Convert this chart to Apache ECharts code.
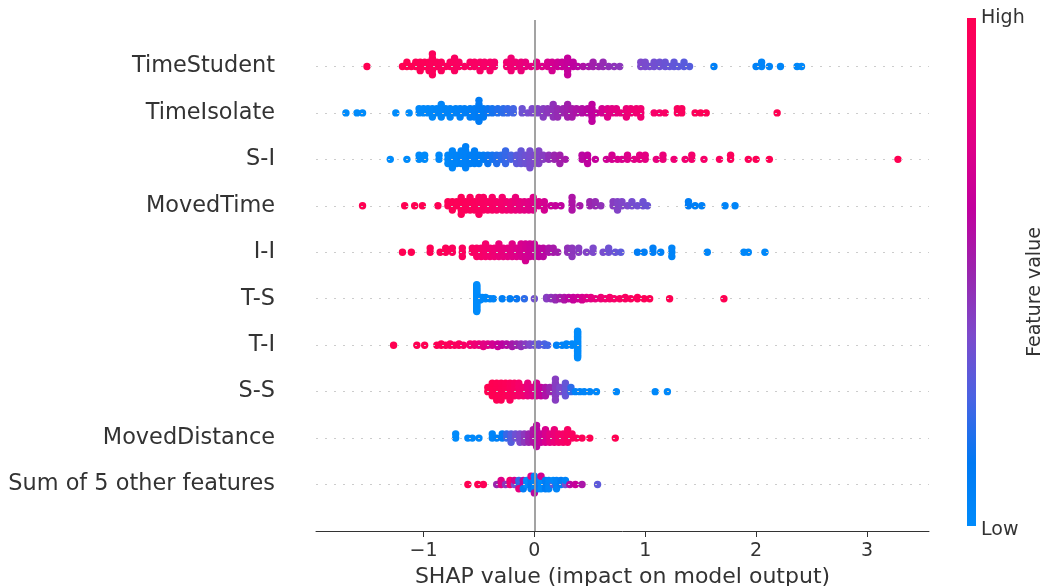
<!DOCTYPE html>
<html lang="en">
<head>
<meta charset="UTF-8">
<title>SHAP summary</title>
<script src="https://cdn.jsdelivr.net/npm/echarts@6.0.0/dist/echarts.min.js"></script>
<style>
    html, body { margin: 0; padding: 0; background: #fff; }
    #main { width: 1049px; height: 586px; }
</style>
</head>
<body>
<div id="main"></div>
<script>
    // rows, top first
    let features = ['TimeStudent', 'TimeIsolate', 'S-I', 'MovedTime', 'I-I', 'T-S', 'T-I', 'S-S', 'MovedDistance', 'Sum of 5 other features'];

    // each entry: [shap value, samples at that value, feature value 0 (low) .. 1 (high)]
    let timeStudent = [
        [-1.51,1,1],[-1.19,1,1],[-1.15,2,1],[-1.11,1,1],[-1.07,2,0.98],[-1.03,3,0.98],[-0.99,2,0.97],[-0.95,3,0.97],
        [-0.92,6,0.96],[-0.88,2,0.96],[-0.84,3,0.95],[-0.80,1,0.95],[-0.76,2,0.94],[-0.72,4,0.94],[-0.68,2,0.93],
        [-0.63,1,0.93],[-0.58,2,0.92],[-0.54,2,0.92],[-0.49,3,0.91],[-0.45,2,0.9],[-0.40,3,0.9],[-0.36,2,0.88],
        [-0.25,2,0.86],[-0.21,4,0.85],[-0.17,2,0.84],[-0.12,3,0.82],[-0.08,2,0.8],[-0.03,1,0.78],[0.02,2,0.76],
        [0.07,1,0.74],[0.12,2,0.72],[0.16,3,0.7],[0.21,2,0.68],[0.25,2,0.66],[0.30,5,0.64],[0.35,2,0.62],[0.39,1,0.6],
        [0.44,1,0.56],[0.49,1,0.54],[0.53,2,0.52],[0.58,1,0.5],[0.62,2,0.48],[0.67,1,0.46],[0.72,1,0.45],[0.77,1,0.44],
        [0.96,2,0.38],[1.00,2,0.37],[1.04,1,0.36],[1.08,2,0.35],[1.13,2,0.34],[1.18,2,0.33],[1.22,1,0.32],[1.26,2,0.31],
        [1.30,1,0.3],[1.35,2,0.29],[1.40,1,0.28],
        [1.62,1,0.08],[2.00,1,0.06],[2.05,2,0.05],[2.12,1,0.05],[2.22,1,0.04],[2.37,1,0.03],[2.41,1,0.02]
    ];
    let timeIsolate = [
        [-1.70,1,0],[-1.60,1,0],[-1.55,1,0],[-1.25,1,0],[-1.13,1,0],
        [-1.04,2,0.02],[-1.00,2,0.02],[-0.96,2,0.03],[-0.92,3,0.03],[-0.88,2,0.04],[-0.84,4,0.04],[-0.80,2,0.05],
        [-0.76,3,0.05],[-0.71,2,0.06],[-0.67,3,0.07],[-0.63,2,0.08],[-0.58,3,0.09],[-0.54,3,0.1],[-0.50,6,0.11],
        [-0.46,3,0.12],[-0.42,2,0.14],[-0.38,2,0.16],[-0.33,2,0.18],[-0.28,2,0.2],[-0.24,2,0.22],[-0.19,2,0.24],
        [-0.11,2,0.34],[-0.06,1,0.36],[-0.02,2,0.38],[0.03,2,0.4],[0.08,3,0.42],[0.12,2,0.44],[0.17,4,0.46],
        [0.21,3,0.48],[0.26,2,0.5],[0.30,4,0.52],[0.34,3,0.54],[0.38,2,0.56],[0.43,2,0.58],[0.48,2,0.6],[0.52,5,0.62],
        [0.56,1,0.64],[0.61,2,0.7],[0.66,3,0.74],[0.70,2,0.76],[0.74,2,0.78],[0.78,1,0.8],[0.83,3,0.82],[0.87,2,0.84],
        [0.92,2,0.85],[0.96,3,0.86],[1.08,1,0.9],[1.13,1,0.9],[1.18,1,0.92],[1.29,2,0.94],[1.33,2,0.95],
        [1.45,1,0.97],[1.50,1,0.98],[1.55,1,0.98],[2.19,1,1]
    ];
    let sI = [
        [-1.30,1,0],[-1.15,1,0],[-1.04,2,0.01],[-0.99,2,0.01],[-0.86,2,0.02],
        [-0.78,3,0.03],[-0.74,5,0.04],[-0.70,3,0.05],[-0.66,4,0.06],[-0.62,6,0.07],[-0.58,3,0.08],[-0.54,4,0.09],
        [-0.50,3,0.1],[-0.46,2,0.12],[-0.42,3,0.14],[-0.38,2,0.16],[-0.34,3,0.18],[-0.30,2,0.2],[-0.26,4,0.22],
        [-0.21,2,0.25],[-0.16,3,0.3],[-0.12,4,0.32],[-0.08,3,0.34],[-0.04,5,0.36],[0.00,3,0.38],[0.04,4,0.4],
        [0.08,2,0.42],[0.13,2,0.46],[0.18,2,0.5],[0.23,3,0.52],[0.28,1,0.54],
        [0.43,2,0.6],[0.48,3,0.62],[0.55,1,0.64],[0.65,1,0.68],[0.70,2,0.7],[0.75,1,0.72],[0.79,1,0.72],[0.84,2,0.74],
        [0.90,1,0.76],[0.95,2,0.77],[1.00,2,0.78],[1.10,1,0.8],[1.16,2,0.82],[1.26,1,0.84],[1.36,1,0.86],[1.42,2,0.88],
        [1.53,1,0.9],[1.67,1,0.94],[1.77,2,0.96],[1.93,1,0.97],[2.00,1,0.98],[2.12,1,1],[3.28,1,1]
    ];
    let movedTime = [
        [-1.55,1,1],[-1.17,1,1],[-1.08,1,1],[-1.01,1,1],[-0.87,1,0.99],
        [-0.78,2,0.98],[-0.74,3,0.98],[-0.70,2,0.97],[-0.66,5,0.97],[-0.62,3,0.96],[-0.58,4,0.96],[-0.54,3,0.95],
        [-0.50,5,0.94],[-0.46,4,0.93],[-0.42,3,0.92],[-0.38,4,0.91],[-0.34,3,0.9],[-0.29,4,0.88],[-0.25,3,0.86],
        [-0.21,3,0.84],[-0.17,4,0.82],[-0.13,3,0.8],[-0.09,3,0.78],[-0.05,3,0.76],[-0.01,4,0.74],[0.04,2,0.72],
        [0.09,3,0.7],[0.15,1,0.66],[0.19,1,0.64],[0.24,1,0.62],[0.34,4,0.56],[0.41,1,0.54],[0.50,2,0.5],[0.55,2,0.48],
        [0.60,1,0.46],[0.71,2,0.42],[0.75,3,0.4],[0.79,2,0.39],[0.84,1,0.38],[0.88,2,0.36],[0.93,1,0.35],[0.98,2,0.34],
        [1.02,1,0.33],[1.39,2,0.1],[1.45,1,0.08],[1.51,1,0.07],[1.72,1,0.05],[1.81,1,0.04]
    ];
    let iI = [
        [-1.19,1,1],[-1.11,1,1],[-0.94,2,0.99],[-0.85,1,0.98],[-0.80,2,0.97],[-0.74,2,0.96],[-0.65,3,0.95],
        [-0.56,2,0.93],[-0.52,3,0.92],[-0.48,3,0.9],[-0.44,4,0.88],[-0.40,3,0.86],[-0.36,3,0.84],[-0.32,4,0.82],
        [-0.28,3,0.8],[-0.24,3,0.78],[-0.20,4,0.76],[-0.16,3,0.74],[-0.12,4,0.72],[-0.08,5,0.7],[-0.04,4,0.68],
        [0.00,4,0.66],[0.04,3,0.63],[0.08,3,0.6],[0.13,2,0.56],[0.17,2,0.54],[0.21,1,0.52],
        [0.30,2,0.46],[0.34,3,0.44],[0.40,2,0.42],[0.47,1,0.4],[0.53,2,0.38],[0.62,1,0.36],[0.67,2,0.34],[0.73,1,0.32],
        [0.78,1,0.3],[0.93,1,0.1],[0.99,1,0.09],[1.07,2,0.08],[1.14,1,0.07],[1.24,3,0.05],[1.56,1,0.04],
        [1.89,1,0.03],[1.93,1,0.03],[2.08,1,0.02]
    ];
    let tS = [
        [-0.52,24,0],[-0.49,3,0.01],[-0.47,2,0.02],[-0.44,2,0.03],[-0.40,1,0.04],[-0.37,1,0.05],[-0.29,1,0.08],
        [-0.22,1,0.1],[-0.16,1,0.14],[-0.09,1,0.2],[0.00,1,0.35],
        [0.11,2,0.42],[0.15,2,0.45],[0.19,3,0.48],[0.23,2,0.52],[0.27,3,0.56],[0.31,2,0.6],[0.35,3,0.64],[0.39,2,0.67],
        [0.43,3,0.7],[0.47,2,0.74],[0.51,2,0.77],[0.55,1,0.8],[0.60,2,0.83],[0.64,1,0.86],[0.68,2,0.88],[0.72,1,0.9],
        [0.77,1,0.92],[0.82,2,0.93],[0.87,1,0.95],[0.93,2,0.96],[0.99,1,0.97],[1.04,1,0.98],[1.22,1,1],[1.71,1,1]
    ];
    let tI = [
        [-1.27,1,1],[-1.06,1,1],[-0.99,1,1],[-0.88,1,0.99],[-0.84,2,0.98],[-0.80,1,0.97],[-0.76,2,0.96],[-0.72,1,0.95],
        [-0.68,2,0.94],[-0.64,1,0.92],[-0.58,2,0.88],[-0.54,2,0.85],[-0.50,2,0.82],[-0.46,3,0.78],[-0.42,2,0.75],
        [-0.38,2,0.7],[-0.33,3,0.66],[-0.29,2,0.62],[-0.25,2,0.58],[-0.20,3,0.54],[-0.16,2,0.5],[-0.12,3,0.46],
        [-0.08,2,0.42],[-0.04,2,0.38],[0.00,2,0.34],[0.04,2,0.3],[0.09,2,0.26],[0.12,1,0.24],
        [0.20,1,0.06],[0.25,1,0.05],[0.29,2,0.04],[0.34,2,0.02],[0.39,22,0]
    ];
    let sS = [
        [-0.42,2,1],[-0.38,4,1],[-0.34,5,0.99],[-0.30,5,0.98],[-0.26,4,0.97],[-0.22,5,0.95],[-0.18,4,0.93],
        [-0.14,4,0.9],[-0.10,3,0.86],[-0.06,4,0.8],[-0.02,3,0.76],[0.02,4,0.7],[0.06,3,0.64],[0.10,3,0.56],
        [0.14,2,0.5],[0.19,6,0.42],[0.23,2,0.38],[0.28,4,0.32],[0.33,2,0.2],
        [0.37,1,0.06],[0.41,1,0.05],[0.45,1,0.04],[0.50,1,0.04],[0.56,1,0.03],[0.74,1,0.03],[1.09,1,0.02],[1.20,1,0.02]
    ];
    let movedDistance = [
        [-0.71,2,0],[-0.60,1,0.02],[-0.56,1,0.02],[-0.50,1,0.03],[-0.38,2,0.05],[-0.34,1,0.07],[-0.29,2,0.1],
        [-0.25,2,0.22],[-0.21,3,0.28],[-0.17,2,0.34],[-0.13,3,0.38],[-0.09,3,0.44],[-0.05,3,0.5],[-0.01,4,0.56],
        [0.02,6,0.6],[0.06,3,0.66],[0.10,4,0.72],[0.14,3,0.78],[0.18,4,0.82],[0.22,3,0.86],[0.26,3,0.9],
        [0.30,4,0.92],[0.34,2,0.94],[0.38,1,0.96],[0.43,1,0.97],[0.50,1,1],[0.73,1,1]
    ];
    let sumOther = [
        [-0.60,1,1],[-0.51,1,1],[-0.46,1,0.98],[-0.34,1,0.5],[-0.30,2,0.75],[-0.26,1,0.45],[-0.22,2,0.85],
        [-0.18,1,0.35],[-0.18,1,0.7],[-0.14,2,0.2],[-0.14,1,0.8],[-0.10,2,0.6],[-0.10,1,0.1],[-0.07,2,0.0],
        [-0.03,3,0.1],[-0.03,1,0.75],[0.00,4,0.05],[0.00,1,0.6],[0.03,3,0.15],[0.06,3,0.0],[0.06,1,0.7],
        [0.10,3,0.1],[0.13,3,0.05],[0.17,1,0.3],[0.17,1,0.02],[0.20,3,0.05],[0.24,2,0.1],[0.28,1,0.35],
        [0.28,1,0.05],[0.32,1,0.6],[0.37,1,0.65],[0.43,1,0.55],[0.57,1,0.3]
    ];
    let rows = [timeStudent, timeIsolate, sI, movedTime, iI, tS, tI, sS, movedDistance, sumOther];

    let xTicks = [-1, 0, 1, 2, 3];
    // shap red_blue, low -> high
    let cmap = ['#008bfb', '#0079f3', '#4963e3', '#7c4acc', '#9a25ae', '#c1009e', '#df0087', '#f5006d', '#ff0052'];
    let font = 'DejaVu Sans';

    // beeswarm: samples in the same small bin are stacked up/down alternately
    function swarm(row, y) {
        let bins = {};
        let pts = [];
        row.forEach(([x, n, c]) => {
            for (let k = 0; k < n; k++) {
                let b = Math.round(x / 0.025);
                let layer = bins[b] || 0;
                bins[b] = layer + 1;
                let off = Math.ceil(layer / 2) * (layer % 2 ? 1 : -1);
                pts.push([x, off, c]);
            }
        });
        let maxOff = Math.max(1, ...pts.map(p => Math.abs(p[1])));
        let step = Math.min(0.09, 0.3 / maxOff);
        return pts.map(p => [p[0], y + p[1] * step, p[2]]);
    }

    let points = [];
    rows.forEach((row, i) => {
        points = points.concat(swarm(row, features.length - 1 - i));
    });

    let rowLines = features.map((f, i) => ({ yAxis: i, lineStyle: { color: '#ccc', width: 1, type: [2, 7] } }));

    let chart = echarts.init(document.getElementById('main'));
    option = {
        animation: false,
        grid: { left: 316, right: 120, top: 20, bottom: 55, outerBoundsMode: 'none', containLabel: false },
        xAxis: {
            type: 'value',
            min: -1.97,
            max: 3.56,
            name: 'SHAP value (impact on model output)',
            nameLocation: 'middle',
            nameGap: 33,
            nameTextStyle: { fontSize: 22, color: '#333', fontFamily: font },
            axisLine: { onZero: false, lineStyle: { color: '#333', width: 1 } },
            axisTick: { customValues: xTicks, length: 6, lineStyle: { color: '#333' } },
            axisLabel: {
                customValues: xTicks,
                margin: 11,
                fontSize: 19,
                color: '#333',
                fontFamily: font,
                formatter: v => v < 0 ? '\u2212' + Math.abs(v) : String(v)
            },
            splitLine: { show: false }
        },
        yAxis: {
            type: 'value',
            min: -1,
            max: 10,
            interval: 1,
            axisLine: { show: false },
            axisTick: { show: false },
            splitLine: { show: false },
            axisLabel: {
                margin: 41,
                fontSize: 22.4,
                color: '#333',
                fontFamily: font,
                formatter: v => (v >= 0 && v < features.length) ? features[features.length - 1 - v] : ''
            }
        },
        visualMap: {
            show: false,
            type: 'continuous',
            min: 0,
            max: 1,
            dimension: 2,
            seriesIndex: 1,
            inRange: { color: cmap }
        },
        series: [
            {
                type: 'scatter',
                data: [],
                silent: true,
                z: 1,
                markLine: {
                    silent: true,
                    symbol: 'none',
                    label: { show: false },
                    animation: false,
                    data: rowLines.concat([{ xAxis: 0, lineStyle: { color: '#999', width: 1.8, type: 'solid' } }])
                }
            },
            {
                type: 'scatter',
                data: points,
                symbolSize: 7.4,
                z: 3,
                silent: true,
                itemStyle: { opacity: 1 }
            }
        ],
        graphic: [
            {
                type: 'rect',
                left: 967,
                top: 18,
                shape: { width: 9, height: 508 },
                style: {
                    fill: new echarts.graphic.LinearGradient(0, 0, 0, 1,
                        cmap.slice().reverse().map((c, i) => ({ offset: i / (cmap.length - 1), color: c })))
                }
            },
            { type: 'text', left: 981, top: 9, style: { text: 'High', fontSize: 19, fontFamily: font, fill: '#333' } },
            { type: 'text', left: 981, top: 521, style: { text: 'Low', fontSize: 19, fontFamily: font, fill: '#333' } },
            {
                type: 'text',
                x: 1035,
                y: 292,
                rotation: Math.PI / 2,
                style: { text: 'Feature value', fontSize: 19, fontFamily: font, fill: '#333', align: 'center', verticalAlign: 'middle' }
            }
        ]
    };
    chart.setOption(option);
</script>
</body>
</html>
